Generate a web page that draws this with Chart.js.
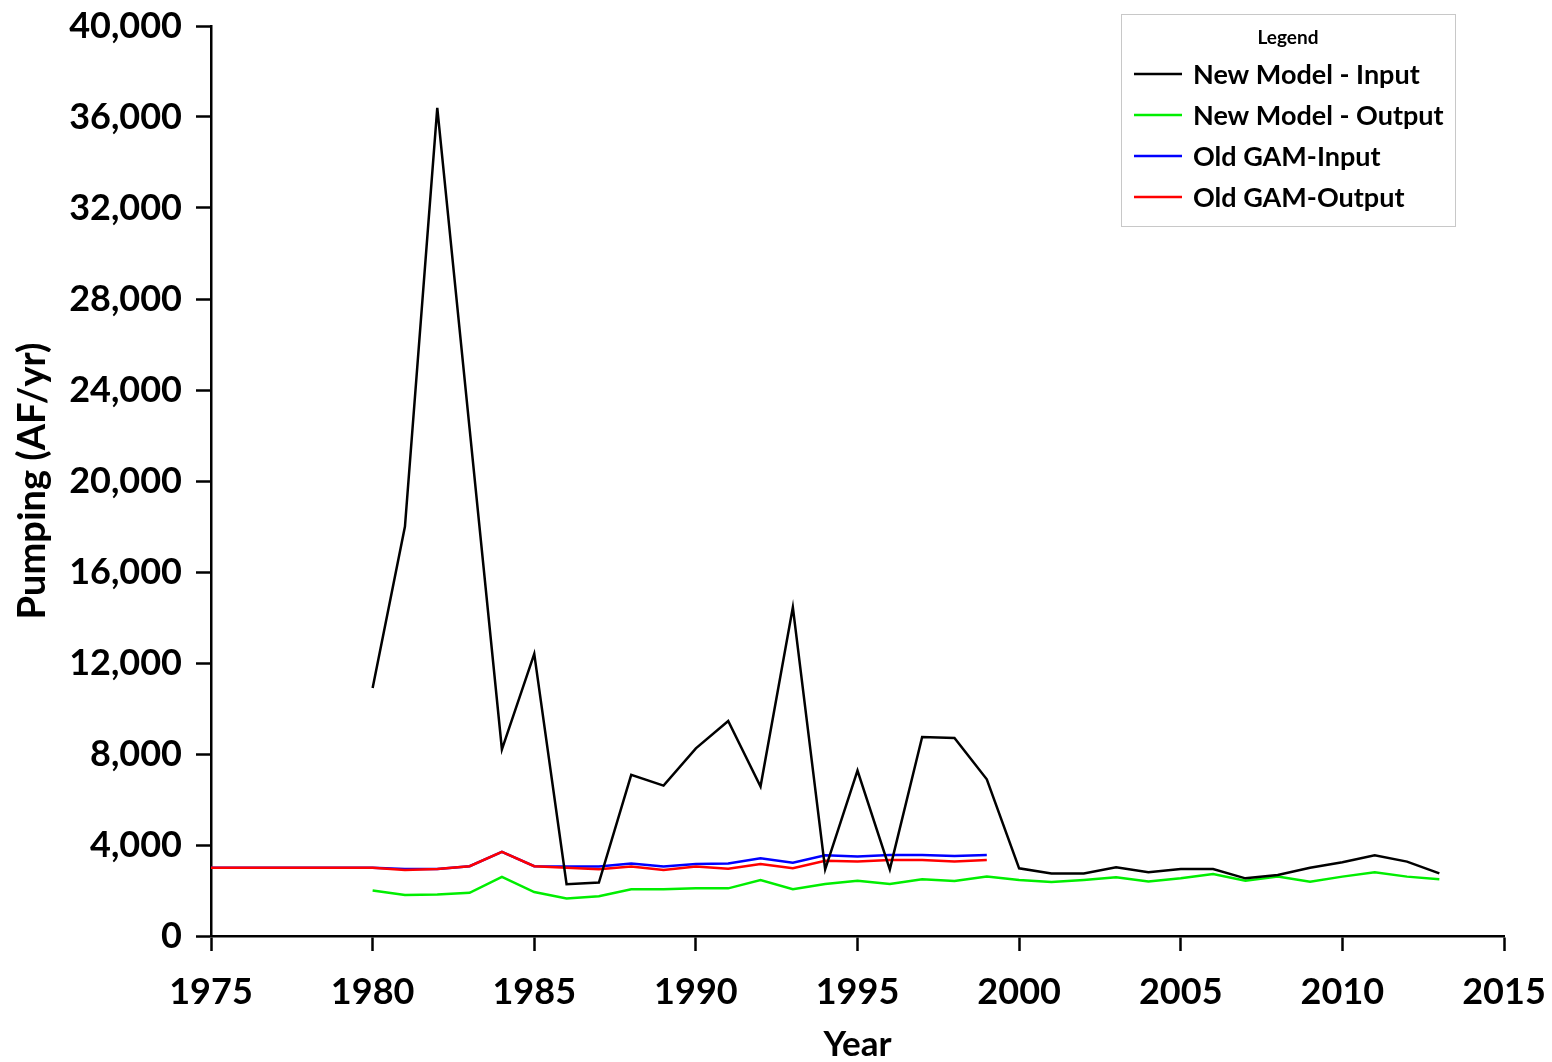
<!DOCTYPE html>
<html>
<head>
<meta charset="utf-8">
<script src="https://cdn.jsdelivr.net/npm/chart.js@4.4.1/dist/chart.umd.min.js"></script>
<style>
  html, body { margin: 0; padding: 0; background: #fff; }
  #wrap { width: 1552px; height: 1062px; }
</style>
</head>
<body>
<div id="wrap"><canvas id="pump" width="1552" height="1062"></canvas></div>
<script>
// years
const newYears = [1980, 1981, 1982, 1983, 1984, 1985, 1986, 1987, 1988, 1989,
                  1990, 1991, 1992, 1993, 1994, 1995, 1996, 1997, 1998, 1999,
                  2000, 2001, 2002, 2003, 2004, 2005, 2006, 2007, 2008, 2009,
                  2010, 2011, 2012, 2013];
const oldYears = [1975, 1976, 1977, 1978, 1979, 1980, 1981, 1982, 1983, 1984,
                  1985, 1986, 1987, 1988, 1989, 1990, 1991, 1992, 1993, 1994,
                  1995, 1996, 1997, 1998, 1999];

// pumping, AF/yr
const newInput = [10900, 18000, 36400, 22300, 8200, 12400, 2280, 2350, 7080, 6610,
                  8250, 9450, 6570, 14450, 2930, 7270, 2930, 8750, 8700, 6890,
                  2975, 2750, 2750, 3020, 2800, 2945, 2945, 2535, 2680, 3000,
                  3240, 3545, 3270, 2750];
const newOutput = [2000, 1800, 1820, 1900, 2600, 1930, 1650, 1750, 2050, 2060,
                   2095, 2095, 2460, 2060, 2285, 2430, 2285, 2490, 2420, 2610,
                   2460, 2370, 2460, 2580, 2400, 2535, 2725, 2430, 2610, 2390,
                   2610, 2800, 2610, 2490];
const oldInput = [3000, 3000, 3000, 3000, 3000, 3000, 2950, 2950, 3070, 3700,
                  3070, 3050, 3050, 3190, 3050, 3165, 3190, 3415, 3225, 3545,
                  3490, 3560, 3560, 3515, 3560];
const oldOutput = [3000, 3000, 3000, 3000, 3000, 3000, 2900, 2950, 3070, 3700,
                   3070, 3000, 2930, 3050, 2900, 3050, 2960, 3165, 2975, 3310,
                   3270, 3340, 3340, 3270, 3340];

const xTicks = [1975, 1980, 1985, 1990, 1995, 2000, 2005, 2010, 2015];

const FONT = 'Lato, "Open Sans", sans-serif';

function pts(xs, ys) {
  return xs.map((x, i) => ({ x: x, y: ys[i] }));
}

function series(label, xs, ys, color, order) {
  return {
    label: label,
    data: pts(xs, ys),
    borderColor: color,
    backgroundColor: color,
    borderWidth: 2.5,
    pointRadius: 0,
    tension: 0,
    order: order
  };
}

// boxed legend in the top right, like the original
const boxLegend = {
  id: 'boxLegend',
  afterDraw(chart) {
    const ctx = chart.ctx;
    const area = chart.chartArea;
    const w = 334, h = 212;
    const x0 = area.right - 49 - w, y0 = area.top - 12;
    ctx.save();
    ctx.fillStyle = '#fff';
    ctx.fillRect(x0, y0, w, h);
    ctx.strokeStyle = '#c8c8c8';
    ctx.lineWidth = 1;
    ctx.strokeRect(x0 + 0.5, y0 + 0.5, w, h);
    ctx.fillStyle = '#000';
    ctx.textAlign = 'center';
    ctx.textBaseline = 'middle';
    ctx.font = 'bold 19px ' + FONT;
    ctx.fillText('Legend', x0 + w / 2, y0 + 24);
    ctx.textAlign = 'left';
    ctx.font = 'bold 27px ' + FONT;
    chart.data.datasets.forEach((ds, i) => {
      const yy = y0 + 60 + i * 41;
      ctx.strokeStyle = ds.borderColor;
      ctx.lineWidth = 2.5;
      ctx.beginPath();
      ctx.moveTo(x0 + 13, yy);
      ctx.lineTo(x0 + 61, yy);
      ctx.stroke();
      ctx.fillText(ds.label, x0 + 72, yy + 1);
    });
    ctx.restore();
  }
};

// short unlabeled ticks at the odd 2,000 steps
const minorTicks = {
  id: 'minorTicks',
  afterDraw(chart) {
    const ctx = chart.ctx;
    const y = chart.scales.y;
    const left = chart.chartArea.left;
    ctx.save();
    ctx.strokeStyle = '#000';
    ctx.lineWidth = 2.5;
    y.ticks.forEach(t => {
      if (t.value % 4000 !== 0) {
        const py = Math.round(y.getPixelForValue(t.value));
        ctx.beginPath();
        ctx.moveTo(left - 8, py);
        ctx.lineTo(left, py);
        ctx.stroke();
      }
    });
    ctx.restore();
  }
};

new Chart(document.getElementById('pump').getContext('2d'), {
  type: 'line',
  data: {
    datasets: [
      series('New Model - Input', newYears, newInput, '#000000', 0),
      series('New Model - Output', newYears, newOutput, '#00ee00', 3),
      series('Old GAM-Input', oldYears, oldInput, '#0000ff', 2),
      series('Old GAM-Output', oldYears, oldOutput, '#ff0000', 1)
    ]
  },
  options: {
    responsive: false,
    animation: false,
    layout: { padding: { left: 6, right: 48, top: 26, bottom: 0 } },
    plugins: {
      legend: { display: false },
      tooltip: { enabled: false }
    },
    scales: {
      x: {
        type: 'linear',
        min: 1975,
        max: 2015,
        afterBuildTicks(scale) {
          scale.ticks = xTicks.map(v => ({ value: v }));
        },
        afterFit(scale) {
          scale.height = 126;
          scale.paddingLeft = 0;
          scale.paddingRight = 0;
        },
        ticks: {
          padding: 20,
          maxRotation: 0,
          color: '#000',
          font: { family: FONT, size: 36, weight: 'bold' },
          callback: v => String(v)
        },
        grid: {
          drawOnChartArea: false,
          drawTicks: true,
          tickLength: 15,
          tickWidth: 2.5,
          tickColor: '#000'
        },
        border: { display: true, color: '#000', width: 2.5 },
        title: {
          display: true,
          text: 'Year',
          color: '#000',
          padding: { top: 0, bottom: 0 },
          font: { family: FONT, size: 35, weight: 'bold', lineHeight: 1 }
        }
      },
      y: {
        min: 0,
        max: 40000,
        afterFit(scale) {
          scale.width = 205;
          scale.paddingTop = 0;
          scale.paddingBottom = 0;
        },
        ticks: {
          stepSize: 2000,
          padding: 14,
          color: '#000',
          font: { family: FONT, size: 36, weight: 'bold' },
          callback: v => (v % 4000 === 0 ? v.toLocaleString('en-US') : '')
        },
        grid: {
          drawOnChartArea: false,
          drawTicks: true,
          tickLength: 15,
          tickWidth: 2.5,
          tickColor: ctx => (ctx.tick && ctx.tick.value % 4000 === 0 ? '#000' : 'rgba(0,0,0,0)')
        },
        border: { display: true, color: '#000', width: 2.5 },
        title: {
          display: true,
          text: 'Pumping (AF/yr)',
          color: '#000',
          padding: { top: 4, bottom: 0 },
          font: { family: FONT, size: 38, weight: 'bold' }
        }
      }
    }
  },
  plugins: [minorTicks, boxLegend]
});
</script>
</body>
</html>
